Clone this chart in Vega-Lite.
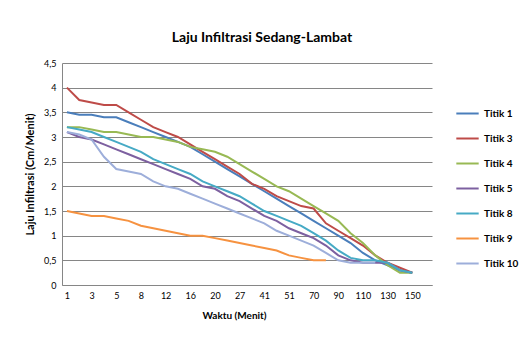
{
  "$schema": "https://vega.github.io/schema/vega-lite/v6.json",
  "autosize": {"type": "none"},
  "width": 370,
  "height": 222,
  "padding": {"left": 62, "top": 63, "right": 99, "bottom": 62},
  "background": "white",
  "config": {"font": "Lato", "view": {"stroke": null}},
  "title": {"text": "Laju Infiltrasi Sedang-Lambat", "fontSize": 14, "fontWeight": "bold", "color": "#000000", "anchor": "middle", "dx": 15, "offset": 14},
  "data": {"values": [
    {"t": "1", "Titik 1": 3.5, "Titik 3": 4.0, "Titik 4": 3.2, "Titik 5": 3.1, "Titik 8": 3.2, "Titik 9": 1.5, "Titik 10": 3.1},
    {"t": "2", "Titik 1": 3.45, "Titik 3": 3.75, "Titik 4": 3.2, "Titik 5": 3.0, "Titik 8": 3.15, "Titik 9": 1.45, "Titik 10": 3.05},
    {"t": "3", "Titik 1": 3.45, "Titik 3": 3.7, "Titik 4": 3.15, "Titik 5": 2.95, "Titik 8": 3.1, "Titik 9": 1.4, "Titik 10": 2.95},
    {"t": "4", "Titik 1": 3.4, "Titik 3": 3.65, "Titik 4": 3.1, "Titik 5": 2.85, "Titik 8": 3.0, "Titik 9": 1.4, "Titik 10": 2.6},
    {"t": "5", "Titik 1": 3.4, "Titik 3": 3.65, "Titik 4": 3.1, "Titik 5": 2.75, "Titik 8": 2.9, "Titik 9": 1.35, "Titik 10": 2.35},
    {"t": "6", "Titik 1": 3.3, "Titik 3": 3.5, "Titik 4": 3.05, "Titik 5": 2.65, "Titik 8": 2.8, "Titik 9": 1.3, "Titik 10": 2.3},
    {"t": "8", "Titik 1": 3.2, "Titik 3": 3.35, "Titik 4": 3.0, "Titik 5": 2.55, "Titik 8": 2.7, "Titik 9": 1.2, "Titik 10": 2.25},
    {"t": "10", "Titik 1": 3.1, "Titik 3": 3.2, "Titik 4": 3.0, "Titik 5": 2.45, "Titik 8": 2.55, "Titik 9": 1.15, "Titik 10": 2.1},
    {"t": "12", "Titik 1": 3.0, "Titik 3": 3.1, "Titik 4": 2.95, "Titik 5": 2.35, "Titik 8": 2.45, "Titik 9": 1.1, "Titik 10": 2.0},
    {"t": "14", "Titik 1": 2.9, "Titik 3": 3.0, "Titik 4": 2.9, "Titik 5": 2.25, "Titik 8": 2.35, "Titik 9": 1.05, "Titik 10": 1.95},
    {"t": "16", "Titik 1": 2.8, "Titik 3": 2.85, "Titik 4": 2.8, "Titik 5": 2.15, "Titik 8": 2.25, "Titik 9": 1.0, "Titik 10": 1.85},
    {"t": "18", "Titik 1": 2.65, "Titik 3": 2.7, "Titik 4": 2.75, "Titik 5": 2.0, "Titik 8": 2.1, "Titik 9": 1.0, "Titik 10": 1.75},
    {"t": "20", "Titik 1": 2.5, "Titik 3": 2.55, "Titik 4": 2.7, "Titik 5": 1.95, "Titik 8": 2.0, "Titik 9": 0.95, "Titik 10": 1.65},
    {"t": "23", "Titik 1": 2.35, "Titik 3": 2.4, "Titik 4": 2.6, "Titik 5": 1.8, "Titik 8": 1.9, "Titik 9": 0.9, "Titik 10": 1.55},
    {"t": "27", "Titik 1": 2.2, "Titik 3": 2.25, "Titik 4": 2.45, "Titik 5": 1.7, "Titik 8": 1.8, "Titik 9": 0.85, "Titik 10": 1.45},
    {"t": "33", "Titik 1": 2.05, "Titik 3": 2.05, "Titik 4": 2.3, "Titik 5": 1.55, "Titik 8": 1.65, "Titik 9": 0.8, "Titik 10": 1.35},
    {"t": "41", "Titik 1": 1.9, "Titik 3": 1.95, "Titik 4": 2.15, "Titik 5": 1.4, "Titik 8": 1.5, "Titik 9": 0.75, "Titik 10": 1.25},
    {"t": "45", "Titik 1": 1.75, "Titik 3": 1.8, "Titik 4": 2.0, "Titik 5": 1.3, "Titik 8": 1.4, "Titik 9": 0.7, "Titik 10": 1.1},
    {"t": "51", "Titik 1": 1.6, "Titik 3": 1.7, "Titik 4": 1.9, "Titik 5": 1.15, "Titik 8": 1.3, "Titik 9": 0.6, "Titik 10": 1.0},
    {"t": "60", "Titik 1": 1.45, "Titik 3": 1.6, "Titik 4": 1.75, "Titik 5": 1.05, "Titik 8": 1.2, "Titik 9": 0.55, "Titik 10": 0.9},
    {"t": "70", "Titik 1": 1.3, "Titik 3": 1.55, "Titik 4": 1.6, "Titik 5": 0.95, "Titik 8": 1.05, "Titik 9": 0.5, "Titik 10": 0.8},
    {"t": "80", "Titik 1": 1.15, "Titik 3": 1.25, "Titik 4": 1.45, "Titik 5": 0.8, "Titik 8": 0.9, "Titik 9": 0.5, "Titik 10": 0.65},
    {"t": "90", "Titik 1": 1.0, "Titik 3": 1.1, "Titik 4": 1.3, "Titik 5": 0.6, "Titik 8": 0.7, "Titik 10": 0.5},
    {"t": "100", "Titik 1": 0.85, "Titik 3": 0.95, "Titik 4": 1.05, "Titik 5": 0.5, "Titik 8": 0.55, "Titik 10": 0.45},
    {"t": "110", "Titik 1": 0.65, "Titik 3": 0.8, "Titik 4": 0.85, "Titik 5": 0.45, "Titik 8": 0.5, "Titik 10": 0.45},
    {"t": "120", "Titik 1": 0.5, "Titik 3": 0.6, "Titik 4": 0.6, "Titik 5": 0.45, "Titik 8": 0.5, "Titik 10": 0.45},
    {"t": "130", "Titik 1": 0.4, "Titik 3": 0.45, "Titik 4": 0.4, "Titik 5": 0.45, "Titik 8": 0.45},
    {"t": "140", "Titik 1": 0.3, "Titik 3": 0.35, "Titik 4": 0.25, "Titik 5": 0.3, "Titik 8": 0.3},
    {"t": "150", "Titik 1": 0.25, "Titik 3": 0.25, "Titik 4": 0.25, "Titik 5": 0.25, "Titik 8": 0.25}
  ]},
  "transform": [
    {"fold": ["Titik 1", "Titik 3", "Titik 4", "Titik 5", "Titik 8", "Titik 9", "Titik 10"], "as": ["s", "v"]},
    {"filter": "isValid(datum.v)"}
  ],
  "mark": {"type": "line", "strokeWidth": 2},
  "encoding": {
    "x": {
      "field": "t", "type": "ordinal",
      "sort": ["1","2","3","4","5","6","8","10","12","14","16","18","20","23","27","33","41","45","51","60","70","80","90","100","110","120","130","140","150"],
      "scale": {"type": "point", "padding": 1.04, "align": 0.2},
      "axis": {
        "title": "Waktu (Menit)", "titleFontSize": 10, "titleFontWeight": "bold", "titleColor": "#000000", "titlePadding": 10,
        "titleAnchor": "start", "titleAlign": "center", "titleX": 172,
        "values": ["1","3","5","8","12","16","20","27","41","51","70","90","110","130","150"],
        "labelAngle": 0, "labelFontSize": 9, "labelColor": "#000000", "labelPadding": 6,
        "ticks": false, "grid": false, "domainColor": "#868686", "labelOverlap": false
      }
    },
    "y": {
      "field": "v", "type": "quantitative",
      "scale": {"domain": [0, 4.5], "nice": false},
      "axis": {
        "title": "Laju Infiltrasi (Cm/Menit)", "titleFontSize": 11, "titleFontWeight": "bold", "titleColor": "#000000", "titlePadding": 8,
        "values": [0, 0.5, 1, 1.5, 2, 2.5, 3, 3.5, 4, 4.5],
        "labelExpr": "replace(toString(datum.value), '.', ',')",
        "labelFontSize": 9, "labelColor": "#000000", "labelPadding": 6,
        "ticks": false, "grid": true, "gridColor": "#868686", "gridWidth": 1, "domainColor": "#868686"
      }
    },
    "color": {
      "field": "s", "type": "nominal",
      "scale": {
        "domain": ["Titik 1", "Titik 3", "Titik 4", "Titik 5", "Titik 8", "Titik 9", "Titik 10"],
        "range": ["#4A7EBB", "#BE4B48", "#98B954", "#7D60A0", "#46AAC5", "#F69240", "#9DAEDA"]
      },
      "legend": {
        "title": null, "orient": "none", "legendX": 393, "legendY": 38,
        "symbolType": "stroke", "symbolStrokeWidth": 2, "symbolSize": 500,
        "labelFontSize": 10, "labelFontWeight": "bold", "labelColor": "#000000",
        "rowPadding": 7
      }
    }
  }
}
